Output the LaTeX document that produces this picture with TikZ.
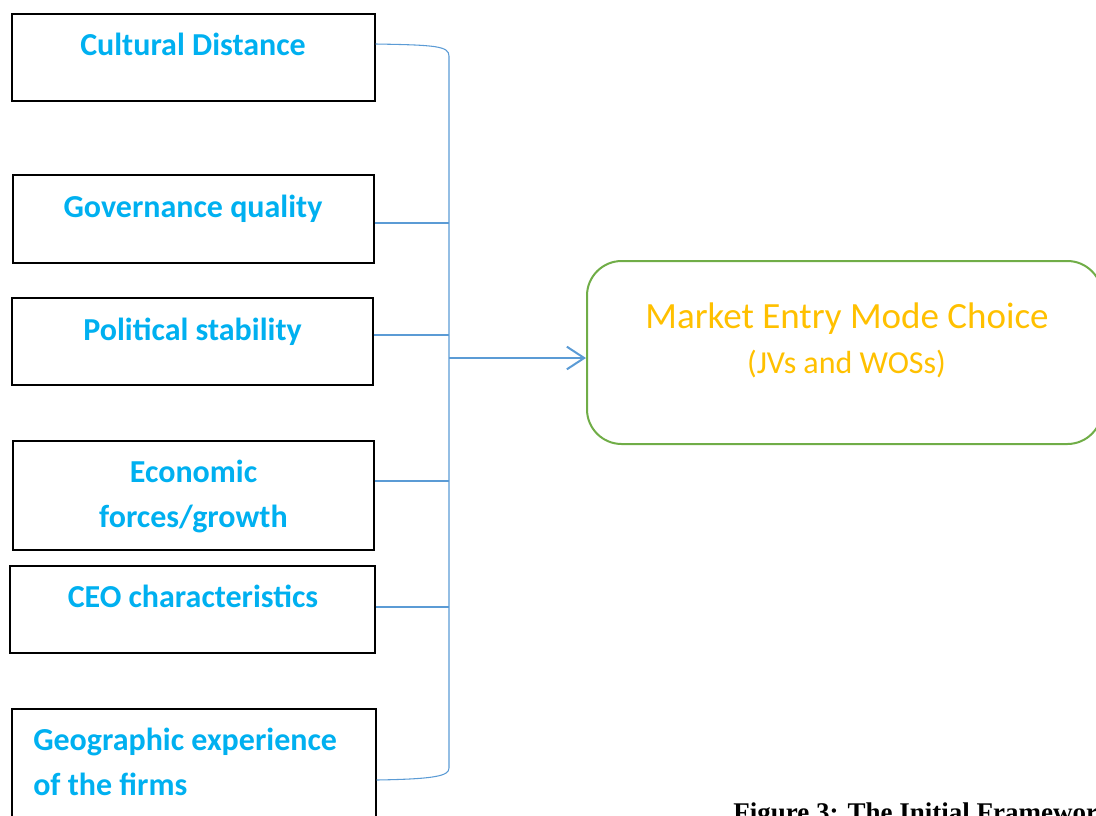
\documentclass[tikz,border=0pt]{standalone}
\usepackage{fontspec}
\setmainfont{Carlito}
\newfontfamily\captionfont{Liberation Serif}
\usetikzlibrary{arrows.meta,positioning}
\definecolor{factorblue}{HTML}{00B0F0}
\definecolor{linkblue}{HTML}{5B9BD5}
\definecolor{choicegreen}{HTML}{70AD47}
\definecolor{choiceorange}{HTML}{FFC000}
\tikzset{
  factor/.style 2 args={draw, line width=1.1pt, minimum width=#1*0.75pt, minimum height=#2*0.75pt, inner sep=0pt},
  factortext/.style={text=factorblue, font=\bfseries\fontsize{24}{33.75}\selectfont, inner sep=0pt, align=center, anchor=base},
  link/.style={draw=linkblue, line width=0.8pt},
  flow/.style={draw=linkblue, line width=1.5pt, -{Straight Barb[length=13pt,width=17pt,line width=1.5pt]}},
}

\begin{document}
\begin{tikzpicture}[x=0.75pt, y=-0.75pt]
   \useasboundingbox (0,0) rectangle (1096,815);
   % factor boxes
   \node[factor={363}{87}] (cd)  at (193.5,57.5) {};
   \node[factor={361}{88}] (gov) at (193.5,219) {};
   \node[factor={361}{87}] (pol) at (192.5,341.5) {};
   \node[factor={361}{109}] (eco) at (193.5,495.5) {};
   \node[factor={365}{87}] (ceo) at (192.5,609.5) {};
   \node[factor={364}{112}] (geo) at (194,765) {};
   \node[factortext] (cdtext)  at (193,55)  {Cultural Distance};
   \node[factortext] (govtext) at (193,217) {Governance quality};
   \node[factortext] (poltext) at (192.5,340) {Political stability};
   \node[factortext] (ecotext) at (193.5,527) {Economic\\forces/growth};
   \node[factortext] (ceotext) at (193,607) {CEO characteristics};
   \node[factortext, anchor=base west, align=left] (geotext) at (33,795) {Geographic experience\\of the firms};
   % outcome box
   \node[draw=choicegreen, line width=1.5pt, rounded corners=26pt, minimum width=515*0.75pt, minimum height=183*0.75pt] (choice) at (844.5,352.5) {};
   \node[text=choiceorange, font=\fontsize{27.75}{33}\selectfont, anchor=base, inner sep=0pt] (title) at (847,328) {Market Entry Mode Choice};
   \node[text=choiceorange, font=\fontsize{24}{30}\selectfont, anchor=base, inner sep=0pt] (sub) at (846.5,373) {(JVs and WOSs)};
   % bracket
   \coordinate (top) at (449,56);
   \coordinate (bot) at (449,768);
   \draw[link] (cd.east |- 0,44) .. controls (435,45) and (449,46) .. (top) -- (bot) .. controls (449,776) and (435,779) .. (geo.east |- 0,780);
   \draw[link] (gov.east |- 0,223) -- (top |- 0,223);
   \draw[link] (pol.east |- 0,335) -- (top |- 0,335);
   \draw[link] (eco.east |- 0,481) -- (top |- 0,481);
   \draw[link] (ceo.east |- 0,607) -- (top |- 0,607);
   \draw[flow] (top |- 0,358) -- (choice.west |- 0,358);
   % caption
   \node[anchor=base west, inner sep=0pt, font=\captionfont\bfseries\fontsize{20.25}{24}\selectfont] (caption) at (733,821) {Figure 3: The Initial Framework};
\end{tikzpicture}
\end{document}
